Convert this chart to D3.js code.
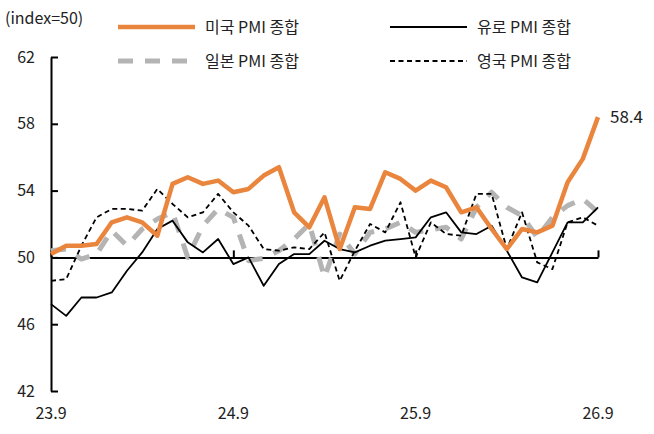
<!DOCTYPE html>
<html>
<head>
<meta charset="utf-8">
<script src="https://cdn.jsdelivr.net/npm/d3@7"></script>
<style>
  body { margin: 0; background: #fff; }
  text { font-family: "Noto Sans CJK KR", "Noto Sans", sans-serif; fill: #222; }
</style>
</head>
<body>
<div id="chart"></div>
<script>
// 월 (23.9 ~ 26.9)
const months = ["23.9","23.10","23.11","23.12","24.1","24.2","24.3","24.4","24.5","24.6","24.7","24.8",
  "24.9","24.10","24.11","24.12","25.1","25.2","25.3","25.4","25.5","25.6","25.7","25.8",
  "25.9","25.10","25.11","25.12","26.1","26.2","26.3","26.4","26.5","26.6","26.7","26.8","26.9"];
const xTicks = ["23.9", "24.9", "25.9", "26.9"];
const yTicks = [42, 46, 50, 54, 58, 62];

// PMI 값
const usPmi = [50.2,50.7,50.7,50.8,52.1,52.4,52.1,51.3,54.4,54.8, 54.4,54.6,53.9,54.1,54.9,55.4,52.7,51.8,53.6,50.5,
  53.0,52.9,55.1,54.7,54.0,54.6,54.2,52.7,53.0,51.7, 50.5,51.7,51.5,51.9,54.5,55.9,58.4];
const euPmi = [47.2,46.5,47.6,47.6,47.9,49.2,50.3,51.7,52.2,50.9, 50.3,51.1,49.6,50.0,48.3,49.6,50.2,50.2,51.0,50.5,
  50.3,50.7,51.0,51.1,51.2,52.4,52.7,51.5,51.4,51.9, 50.4,48.8,48.5,50.3,52.1,52.1,53.0];
const jpPmi = [50.4,50.5,49.9,50.2,51.6,50.7,51.7,52.3,52.7,50.0, 51.9,52.9,52.4,49.8,49.95,50.4,51.1,52.0,48.8,51.4,
  50.2,51.5,51.7,52.1,51.5,51.65,51.8,51.1,53.0,53.9, 53.0,52.5,51.2,52.4,53.1,53.5,52.7];
const ukPmi = [48.6,48.7,50.7,52.4,52.9,52.9,52.8,54.1,53.2,52.4, 52.7,53.8,52.7,51.9,50.5,50.4,50.6,50.5,51.5,48.6,
  50.4,52.0,51.5,53.3,50.0,52.1,51.4,51.3,53.8,53.8, 50.5,52.7,49.7,49.3,52.1,52.4,51.9];

// 크기
const margin = { top: 57, right: 56, bottom: 43, left: 51 },
      width = 654 - margin.left - margin.right,
      height = 434 - margin.top - margin.bottom;

const svg = d3.select("#chart")
  .append("svg")
  .attr("width", 654)
  .attr("height", 434);

const g = svg.append("g")
  .attr("transform", `translate(${margin.left},${margin.top})`);

// 스케일
const x = d3.scalePoint().domain(months).range([0, width]);
const y = d3.scaleLinear().domain([42, 62]).range([height, 0]);

// y축 (눈금 안쪽)
const yAxis = g.append("g")
  .call(d3.axisLeft(y).tickValues(yTicks).tickSize(-7).tickPadding(16).tickSizeOuter(0));
yAxis.select(".domain").attr("stroke", "#000").attr("stroke-width", 2);
yAxis.selectAll(".tick line").attr("stroke", "#000").attr("stroke-width", 2);
yAxis.selectAll(".tick text").attr("font-size", 16).attr("fill", "#222")
  .attr("font-family", "'Noto Sans CJK KR', sans-serif");

// 50 기준선 (x축)
const xAxis = g.append("g")
  .attr("transform", `translate(0,${y(50)})`)
  .call(d3.axisBottom(x).tickValues(xTicks).tickSize(-7).tickFormat("").tickSizeOuter(0));
xAxis.select(".domain").attr("stroke", "#000").attr("stroke-width", 2);
xAxis.selectAll(".tick line").attr("stroke", "#000").attr("stroke-width", 2);

// x 라벨 (아래쪽)
g.selectAll(".x-label")
  .data(xTicks)
  .enter()
  .append("text")
  .attr("class", "x-label")
  .attr("x", d => x(d))
  .attr("y", height + 28)
  .attr("text-anchor", "middle")
  .attr("font-size", 16)
  .text(d => d);

// 라인
const line = d3.line()
  .x((d, i) => x(months[i]))
  .y(d => y(d));

const series = [
  { name: "일본 PMI 종합", values: jpPmi, color: "#b4b4b4", width: 5, dash: "15,12" },
  { name: "영국 PMI 종합", values: ukPmi, color: "#000", width: 1.8, dash: "5,3.5" },
  { name: "유로 PMI 종합", values: euPmi, color: "#000", width: 1.8, dash: null },
  { name: "미국 PMI 종합", values: usPmi, color: "#e9853d", width: 4.5, dash: null }
];

g.selectAll(".series")
  .data(series)
  .enter()
  .append("path")
  .attr("class", "series")
  .attr("d", d => line(d.values))
  .attr("fill", "none")
  .attr("stroke", d => d.color)
  .attr("stroke-width", d => d.width)
  .attr("stroke-dasharray", d => d.dash)
  .attr("stroke-linejoin", "round");

// 마지막 값 라벨
g.append("text")
  .attr("x", x(months[months.length - 1]) + 12)
  .attr("y", y(usPmi[usPmi.length - 1]) + 6)
  .attr("font-size", 17)
  .attr("fill", "#333")
  .text(usPmi[usPmi.length - 1].toFixed(1));

// 단위
svg.append("text")
  .attr("x", 5)
  .attr("y", 24)
  .attr("font-size", 16)
  .text("(index=50)");

// 범례
const legendItems = [
  { s: series[3], lx: 118, ly: 27 },
  { s: series[2], lx: 390, ly: 27 },
  { s: series[0], lx: 118, ly: 61 },
  { s: series[1], lx: 390, ly: 61 }
];
const legend = svg.append("g").attr("class", "legend");
legendItems.forEach(it => {
  legend.append("line")
    .attr("x1", it.lx).attr("x2", it.lx + 77)
    .attr("y1", it.ly).attr("y2", it.ly)
    .attr("stroke", it.s.color)
    .attr("stroke-width", it.s.width)
    .attr("stroke-dasharray", it.s.dash);
  legend.append("text")
    .attr("x", it.lx + 87)
    .attr("y", it.ly + 6)
    .attr("font-size", 16)
    .text(it.s.name);
});
</script>
</body>
</html>
